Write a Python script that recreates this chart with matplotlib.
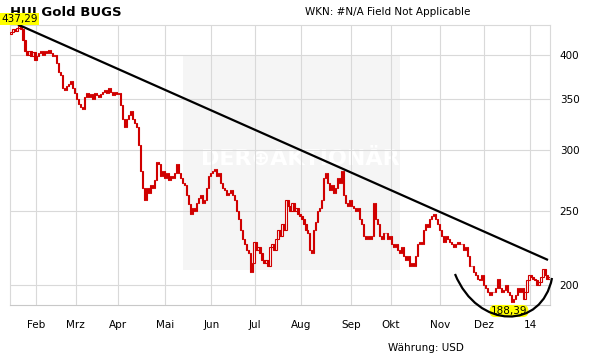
import numpy as np
import matplotlib
matplotlib.use('Agg')
import matplotlib.pyplot as plt
from matplotlib.patches import Rectangle, PathPatch
from matplotlib.path import Path

# daily closes, one list per month (2013-01 .. 2014-01)
jan13 = [428, 432, 430, 434, 436, 432, 418, 404, 400, 404, 398, 403, 394]
feb13 = [398, 402, 404, 400, 405, 402, 406, 402, 398, 400, 390, 380, 376,
         362, 360, 364, 366, 370, 362, 356]
mar13 = [350, 345, 342, 340, 352, 356, 352, 355, 350, 356, 354, 352, 355,
         358, 360, 356, 362, 358, 354, 358, 355]
apr13 = [356, 344, 330, 322, 330, 334, 338, 330, 326, 322, 305, 282, 268,
         258, 268, 264, 270, 268, 274, 290, 288, 278, 282, 276]
mai13 = [280, 274, 278, 276, 280, 288, 280, 276, 272, 270, 262, 255, 248,
         252, 250, 256, 260, 262, 256, 258, 268, 278, 280]
jun13 = [282, 284, 278, 280, 272, 268, 266, 262, 264, 266, 262, 258, 250,
         244, 236, 230, 226, 222, 220, 208, 214, 228]
jul13 = [222, 224, 220, 216, 214, 216, 212, 224, 226, 222, 230, 236, 232,
         240, 236, 258, 254, 250, 256, 250, 252, 248, 246]
aug13 = [244, 240, 236, 234, 222, 220, 236, 242, 250, 252, 258, 276, 280,
         272, 266, 270, 264, 268, 276, 272, 282, 262, 256, 254, 258]
sep13 = [254, 252, 250, 252, 244, 240, 232, 230, 232, 230, 232, 256, 244,
         240, 232, 230, 234, 234, 230, 232]
okt13 = [226, 224, 226, 222, 220, 224, 218, 216, 218, 212, 214, 212, 218,
         226, 228, 226, 236, 240, 238, 244, 246, 248, 244, 240, 236]
nov13 = [232, 228, 232, 230, 228, 226, 224, 226, 228, 226, 226, 222, 224,
         218, 212, 212, 208, 206, 204, 203, 206, 200]
dez13 = [198, 196, 194, 196, 196, 198, 204, 198, 196, 197, 200, 196, 194,
         190, 192, 194, 198, 196, 198, 192, 196, 203, 206]
jan14 = [205, 204, 203, 200, 202, 205, 210, 206, 204, 205]

months = [jan13, feb13, mar13, apr13, mai13, jun13, jul13, aug13, sep13,
          okt13, nov13, dez13, jan14]
month_labels = ['Feb', 'Mrz', 'Apr', 'Mai', 'Jun', 'Jul', 'Aug', 'Sep',
                'Okt', 'Nov', 'Dez', '14']
first_open = 426
high_label = 437.29
low_label = 188.39
trend_end = (269, 216)
y_ticks = [200, 250, 300, 350, 400]

W, H = 611, 364
RED = '#d00000'
GRID = '#d9d9d9'


def fig_xy(x, y):
    """Pixel position (from top left) to figure fraction."""
    return x / W, 1 - y / H


closes = np.array([c for m in months for c in m], dtype=float)
opens = np.concatenate([[first_open], closes[:-1]])
idx = np.arange(len(closes))
bounds = np.cumsum([len(m) for m in months])[:-1] - 0.5

fig = plt.figure(figsize=(W / 100, H / 100), dpi=100)
ax = fig.add_axes([10 / W, (H - 305) / H, 540 / W, 280 / H])
ax.set_yscale('log')
ax.set_xlim(-0.5, len(closes) - 0.5)
ax.set_ylim(low_label, high_label)

# watermark box, under the grid
x0, y0 = fig_xy(183, 270)
x1, y1 = fig_xy(400, 55)
ax.add_patch(Rectangle((x0, y0), x1 - x0, y1 - y0,
                       transform=fig.transFigure, facecolor='#f5f5f5',
                       edgecolor='none', zorder=0.1))
ax.text(*fig_xy(300, 159), 'DER\u2295AKTION\u00c4R', color='white',
        fontsize=16, fontweight='bold', ha='center', va='center',
        transform=fig.transFigure, zorder=0.2)

# grid
ax.set_xticks(bounds)
ax.set_xticklabels(month_labels, fontsize=7.5)
ax.set_yticks(y_ticks)
ax.set_yticklabels([str(t) for t in y_ticks], fontsize=7.5)
ax.yaxis.set_minor_locator(matplotlib.ticker.NullLocator())
ax.yaxis.tick_right()
ax.tick_params(length=0, pad=7)
ax.tick_params(axis='x', pad=11)
ax.grid(True, color=GRID, linewidth=0.8, zorder=0.5)
ax.set_axisbelow(True)
for s in ax.spines.values():
    s.set_color(GRID)
    s.set_linewidth(0.8)
ax.spines['bottom'].set_color('#c8c8c8')

# candles
up = closes >= opens
bottom = np.minimum(opens, closes)
height = np.abs(closes - opens)
ax.bar(idx[up], height[up], bottom=bottom[up], width=0.6,
       facecolor='white', edgecolor=RED, linewidth=0.8, zorder=3)
ax.bar(idx[~up], height[~up], bottom=bottom[~up], width=0.6,
       facecolor=RED, edgecolor=RED, linewidth=0.8, zorder=3)

# trend line from the high
i_max = int(np.argmax(closes))
ax.plot([i_max, trend_end[0]], [high_label, trend_end[1]], color='black',
        linewidth=1.6, clip_on=False, zorder=4)

# bowl arc near the low
pts = [fig_xy(455, 274), fig_xy(478, 330), fig_xy(542, 330),
       fig_xy(552, 278)]
arc = Path(pts, [Path.MOVETO, Path.CURVE4, Path.CURVE4, Path.CURVE4])
fig.patches.append(PathPatch(arc, transform=fig.transFigure,
                             facecolor='none', edgecolor='black',
                             linewidth=1.6, zorder=6))

# value labels
fig.text(*fig_xy(1, 19), f'{high_label:.2f}'.replace('.', ','),
         fontsize=7.5, ha='left', va='center', zorder=7,
         bbox=dict(boxstyle='square,pad=0.1', facecolor='#ffff00',
                   edgecolor='none'))
fig.text(*fig_xy(509, 311), f'{low_label:.2f}'.replace('.', ','),
         fontsize=7.5, ha='center', va='center', zorder=5,
         bbox=dict(boxstyle='round,pad=0.1,rounding_size=0.5',
                   facecolor='#ffff00', edgecolor='none'))

# titles
fig.text(*fig_xy(10, 12), 'HUI Gold BUGS', fontsize=9.5, fontweight='bold',
         ha='left', va='center', zorder=2)
fig.text(*fig_xy(305, 12), 'WKN: #N/A Field Not Applicable', fontsize=7.5,
         ha='left', va='center')
fig.text(*fig_xy(388, 348), 'W\u00e4hrung: USD', fontsize=7.5,
         ha='left', va='center')

fig.savefig('out.png', dpi=100)
